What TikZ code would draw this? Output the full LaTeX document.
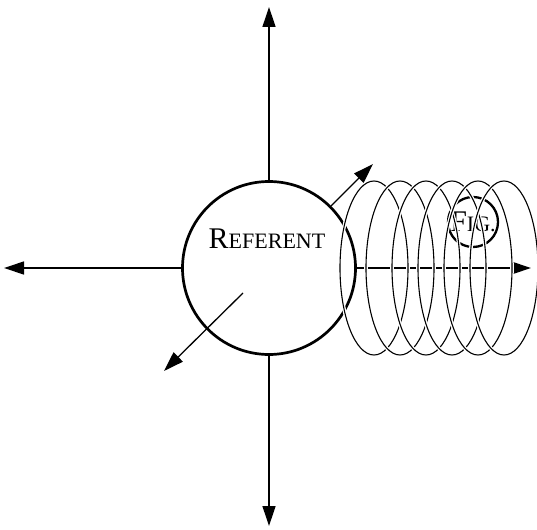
\documentclass[tikz,border=0pt]{standalone}
\usepackage{fontspec}
\setmainfont{Liberation Serif}
\usetikzlibrary{arrows.meta,shapes.geometric}
\begin{document}
\begin{tikzpicture}[x=1pt,y=-1pt,
  axis/.style={line width=1.3pt,-{Triangle[length=20pt,width=13pt]}},
  bigcirc/.style={circle,draw,line width=2.7pt,minimum size=173pt,inner sep=0pt},
  figcirc/.style={circle,draw,line width=2.3pt,minimum size=50pt,inner sep=0pt},
  coil/.style={ellipse,draw,line width=1.1pt,minimum width=68pt,minimum height=174pt,inner sep=0pt,
    preaction={draw=white,line width=3.6pt}},
  lbl/.style={inner sep=0pt}]
\useasboundingbox (0,0) rectangle (537,529);
\node[bigcirc] (ref) at (269,268) {};
\node[lbl] (reftext) at (267,239) {\fontsize{30}{30}\selectfont R\fontsize{22}{22}\selectfont EFERENT};
\coordinate (topend) at (269,7);
\coordinate (botend) at (269,526);
\coordinate (leftend) at (4,268);
\coordinate (rightend) at (531,268);
\coordinate (ne) at (373,164);
\coordinate (swstart) at (243,293);
\coordinate (sw) at (164,371);
\draw[axis] (ref.north) -- (topend);
\draw[axis] (ref.south) -- (botend);
\draw[axis] (ref.west) -- (leftend);
\draw[axis] (ref.east) -- (rightend);
\draw[axis] (ref.45) -- (ne);
\draw[axis] (swstart) -- (sw);
\node[figcirc] (fig) at (473,222) {\fontsize{30}{30}\selectfont F\fontsize{22}{22}\selectfont IG.};
\foreach \i/\cx in {1/374,2/400,3/426,4/452,5/478,6/504}
  \node[coil] (coil\i) at (\cx,268) {};
\end{tikzpicture}
\end{document}
